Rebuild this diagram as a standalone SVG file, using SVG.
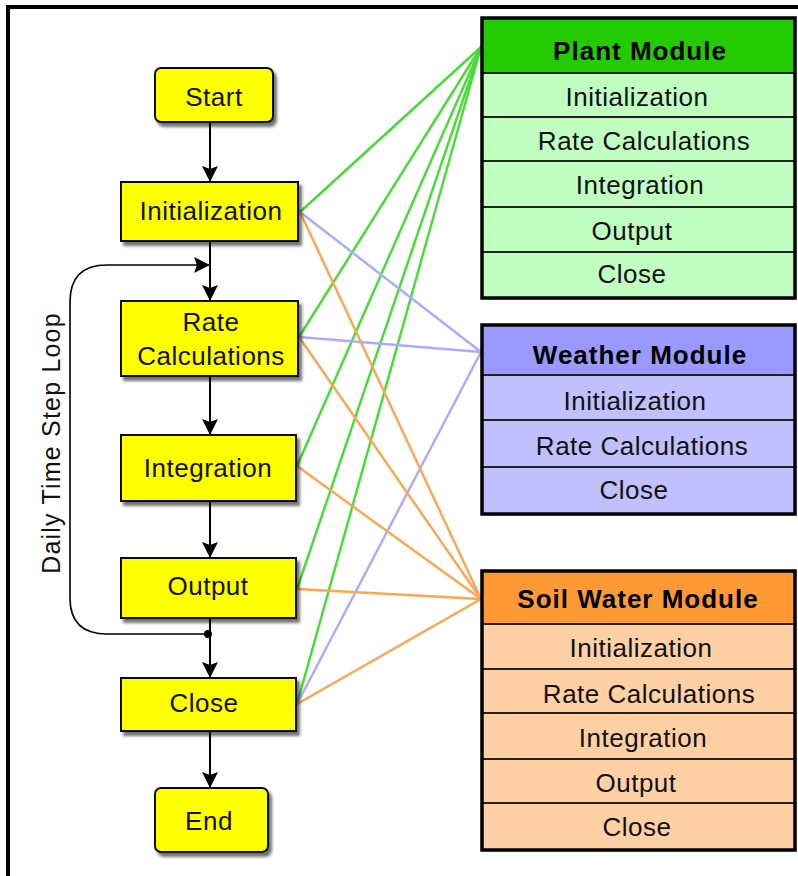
<svg xmlns="http://www.w3.org/2000/svg" width="798" height="876" viewBox="0 0 798 876">
<defs>
<filter id="sh" x="-10%" y="-10%" width="130%" height="140%">
<feDropShadow dx="3" dy="4" stdDeviation="1.8" flood-color="#000" flood-opacity="0.55"/>
</filter>
<filter id="sh2" x="-5%" y="-5%" width="110%" height="110%">
<feDropShadow dx="1" dy="1" stdDeviation="1" flood-color="#000" flood-opacity="0.25"/>
</filter>
<marker id="ah" viewBox="0 0 16 18" refX="16" refY="9" markerWidth="16" markerHeight="18" markerUnits="userSpaceOnUse" orient="auto">
<path d="M0,1 L16,9 L0,17 L3,9 z" fill="#000"/>
</marker>
</defs>
<style>
.box{fill:#ffff00;stroke:#111;stroke-width:2;filter:url(#sh)}
.t{font-family:"Liberation Sans",Arial,sans-serif;font-size:26px;letter-spacing:0.5px;fill:#111;text-anchor:middle}
.h{font-family:"Liberation Sans",Arial,sans-serif;font-size:26px;font-weight:bold;letter-spacing:1px;fill:#000;text-anchor:middle}
.flow{stroke:#000;stroke-width:2;fill:none;marker-end:url(#ah)}
.sep{stroke:#222;stroke-width:2}
.mod{fill:none;stroke:#000;stroke-width:3.5}
.g{stroke:#44dd33;stroke-width:2.4;fill:none}
.b{stroke:#aaaaff;stroke-width:2.4;fill:none}
.o{stroke:#ffa450;stroke-width:2.4;fill:none}
</style>
<rect x="0" y="0" width="798" height="876" fill="#fff"/>
<path d="M8,876 V7 H798" fill="none" stroke="#000" stroke-width="4"/>

<g id="connectors">
<line class="g" x1="300" y1="212" x2="481" y2="47"/>
<line class="g" x1="299" y1="337" x2="481" y2="47"/>
<line class="g" x1="297" y1="466" x2="481" y2="47"/>
<line class="g" x1="297" y1="589" x2="481" y2="47"/>
<line class="g" x1="297" y1="704" x2="481" y2="47"/>
<line class="b" x1="300" y1="212" x2="481" y2="352"/>
<line class="b" x1="299" y1="337" x2="481" y2="352"/>
<line class="b" x1="297" y1="704" x2="481" y2="352"/>
<line class="o" x1="300" y1="212" x2="481" y2="599"/>
<line class="o" x1="299" y1="337" x2="481" y2="599"/>
<line class="o" x1="297" y1="466" x2="481" y2="599"/>
<line class="o" x1="297" y1="589" x2="481" y2="599"/>
<line class="o" x1="297" y1="704" x2="481" y2="599"/>
<line class="flow" x1="210" y1="122" x2="210" y2="182"/>
<line class="flow" x1="210" y1="241" x2="210" y2="301"/>
<line class="flow" x1="210" y1="376" x2="210" y2="435"/>
<line class="flow" x1="210" y1="501" x2="210" y2="558"/>
<line class="flow" x1="210" y1="618" x2="210" y2="678"/>
<line class="flow" x1="210" y1="731" x2="210" y2="788"/>
<path d="M208,634 H107 Q70,634 70,598 V302 Q70,265 107,265 H210" fill="none" stroke="#000" stroke-width="1.6" marker-end="url(#ah)"/>
<circle cx="208" cy="634" r="4" fill="#000"/>
</g>

<text class="t" transform="translate(51,443) rotate(-90)" x="0" y="9" style="font-size:25px;letter-spacing:1.2px">Daily Time Step Loop</text>

<g id="start">
<rect class="box" x="155" y="68" width="118" height="54" rx="6"/>
<text class="t" x="214" y="106">Start</text>
</g>
<g id="init">
<rect class="box" x="121" y="182" width="177" height="59"/>
<text class="t" x="211" y="220">Initialization</text>
</g>
<g id="rate">
<rect class="box" x="121" y="301" width="177" height="75"/>
<text class="t" x="211" y="331">Rate</text>
<text class="t" x="211" y="365">Calculations</text>
</g>
<g id="integration">
<rect class="box" x="121" y="435" width="175" height="66"/>
<text class="t" x="208" y="477">Integration</text>
</g>
<g id="output">
<rect class="box" x="121" y="558" width="175" height="60"/>
<text class="t" x="208" y="595">Output</text>
</g>
<g id="close">
<rect class="box" x="121" y="678" width="175" height="53"/>
<text class="t" x="204" y="712">Close</text>
</g>
<g id="end">
<rect class="box" x="155" y="788" width="113" height="64" rx="6"/>
<text class="t" x="209" y="830">End</text>
</g>

<g id="plant">
<rect x="482" y="18" width="313" height="280" fill="#c0ffc0" filter="url(#sh2)"/>
<rect x="482" y="18" width="313" height="55" fill="#22cc00"/>
<line class="sep" x1="482" y1="73" x2="795" y2="73"/>
<line class="sep" x1="482" y1="117" x2="795" y2="117"/>
<line class="sep" x1="482" y1="161" x2="795" y2="161"/>
<line class="sep" x1="482" y1="207" x2="795" y2="207"/>
<line class="sep" x1="482" y1="252" x2="795" y2="252"/>
<rect class="mod" x="482" y="18" width="313" height="280"/>
<text class="h" x="640" y="60">Plant Module</text>
<text class="t" x="637" y="106">Initialization</text>
<text class="t" x="644" y="150">Rate Calculations</text>
<text class="t" x="640" y="194">Integration</text>
<text class="t" x="632" y="240">Output</text>
<text class="t" x="632" y="283">Close</text>
</g>

<g id="weather">
<rect x="482" y="325" width="313" height="189" fill="#c0c0ff" filter="url(#sh2)"/>
<rect x="482" y="325" width="313" height="50" fill="#9999ff"/>
<line class="sep" x1="482" y1="375" x2="795" y2="375"/>
<line class="sep" x1="482" y1="420" x2="795" y2="420"/>
<line class="sep" x1="482" y1="467" x2="795" y2="467"/>
<rect class="mod" x="482" y="325" width="313" height="189"/>
<text class="h" x="640" y="364">Weather Module</text>
<text class="t" x="635" y="410">Initialization</text>
<text class="t" x="642" y="455">Rate Calculations</text>
<text class="t" x="634" y="499">Close</text>
</g>

<g id="soil">
<rect x="482" y="571" width="313" height="279" fill="#ffd0a4" filter="url(#sh2)"/>
<rect x="482" y="571" width="313" height="53" fill="#ff9933"/>
<line class="sep" x1="482" y1="624" x2="795" y2="624"/>
<line class="sep" x1="482" y1="669" x2="795" y2="669"/>
<line class="sep" x1="482" y1="713" x2="795" y2="713"/>
<line class="sep" x1="482" y1="759" x2="795" y2="759"/>
<line class="sep" x1="482" y1="803" x2="795" y2="803"/>
<rect class="mod" x="482" y="571" width="313" height="279"/>
<text class="h" x="638" y="608">Soil Water Module</text>
<text class="t" x="641" y="657">Initialization</text>
<text class="t" x="649" y="703">Rate Calculations</text>
<text class="t" x="643" y="747">Integration</text>
<text class="t" x="636" y="792">Output</text>
<text class="t" x="637" y="836">Close</text>
</g>
</svg>
